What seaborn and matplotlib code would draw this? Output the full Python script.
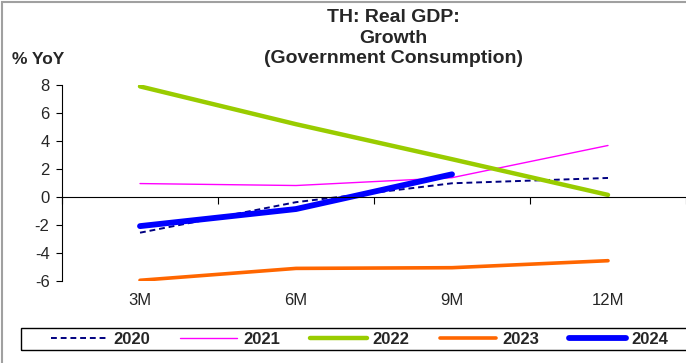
import matplotlib
matplotlib.use("Agg")
import matplotlib.pyplot as plt
import matplotlib.transforms as mtransforms
import numpy as np
import pandas as pd
import seaborn as sns

# Data
periods = ["3M", "6M", "9M", "12M"]
y2020 = [-2.55, -0.37, 0.98, 1.36]
y2021 = [0.96, 0.82, 1.38, 3.68]
y2022 = [7.9, 5.2, 2.7, 0.15]
y2023 = [-5.95, -5.1, -5.05, -4.55]
y2024 = [-2.08, -0.86, 1.62]

series = {"2020": y2020, "2021": y2021, "2022": y2022, "2023": y2023, "2024": y2024}
styles = {
    "2020": dict(color="#000080", lw=1.4, ls=(0, (3, 2))),
    "2021": dict(color="#FF00FF", lw=1.0, ls="-"),
    "2022": dict(color="#99CC00", lw=3.2, ls="-"),
    "2023": dict(color="#FF6600", lw=2.6, ls="-"),
    "2024": dict(color="#0000FF", lw=4.2, ls="-"),
}

sns.set_theme(style="white")
plt.rcParams["font.family"] = ["Liberation Sans", "DejaVu Sans"]
plt.rcParams["axes.unicode_minus"] = False

fig = plt.figure(figsize=(6.86, 3.63), dpi=100)
ax = fig.add_axes([62 / 686, 1 - 281 / 363, 624 / 686, 196 / 363])

for name, vals in series.items():
    df = pd.DataFrame({"x": np.arange(len(vals)), "y": vals})
    st = styles[name]
    sns.lineplot(data=df, x="x", y="y", ax=ax, color=st["color"], linewidth=st["lw"],
                 linestyle=st["ls"], label=name, solid_capstyle="round", legend=False)

ax.set_xlim(-0.5, len(periods) - 0.5)
ax.set_ylim(-6, 8)
ax.set_yticks(np.arange(-6, 9, 2))
ax.set_xlabel("")
ax.set_ylabel("")

for s in ["top", "right"]:
    ax.spines[s].set_visible(False)
ax.spines["bottom"].set_position(("data", 0))
for s in ["left", "bottom"]:
    ax.spines[s].set_color("black")
    ax.spines[s].set_linewidth(0.8)

ax.set_xticks(np.arange(-0.5, len(periods), 1.0))
ax.set_xticklabels([])
ax.tick_params(axis="x", direction="out", length=5, width=0.8, color="black", bottom=True)
ax.tick_params(axis="y", direction="out", length=4, width=0.8, color="black", left=True,
               labelsize=12, pad=5)

trans = mtransforms.blended_transform_factory(ax.transData, ax.transAxes)
for i, p in enumerate(periods):
    ax.text(i, -0.1, p, transform=trans, ha="center", va="center", fontsize=12)

fig.text(393 / 686, 1 - 9 / 363, "TH: Real GDP:\nGrowth\n(Government Consumption)",
         ha="center", va="top", fontsize=14, fontweight="bold", linespacing=1.27)
fig.text(12 / 686, 1 - 60 / 363, "% YoY", ha="left", va="center", fontsize=12.5, fontweight="bold")

handles, labels = ax.get_legend_handles_labels()
leg = fig.legend(handles, labels, loc="center left", ncol=5, frameon=False,
                 bbox_to_anchor=(51 / 686, 1 - 339 / 363),
                 borderpad=0, borderaxespad=0, handlelength=3.4, handletextpad=0.36,
                 columnspacing=1.8, prop={"weight": "bold", "size": 12})

# legend frame and outer chart border
fig.patches.append(plt.Rectangle((21 / 686, 1 - 350 / 363), 1.0, 22 / 363, transform=fig.transFigure,
                                 fill=False, edgecolor="black", lw=1.0))
fig.patches.append(plt.Rectangle((2 / 686, -0.1), 1.1, 1 - 2 / 363 + 0.1, transform=fig.transFigure,
                                 fill=False, edgecolor="#A0A0A0", lw=1.5))

fig.savefig("out.png", dpi=100)
